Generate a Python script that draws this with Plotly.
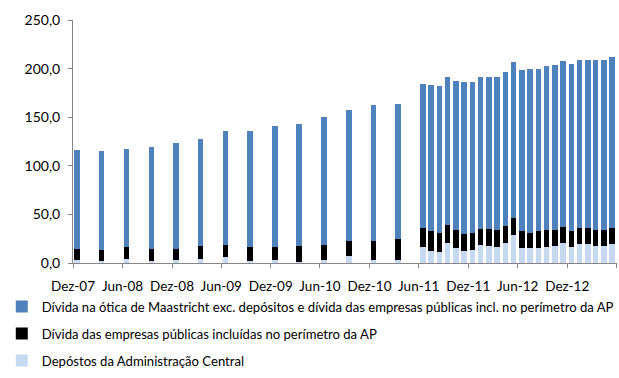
import plotly.graph_objects as go

# Period (year-month) of each bar: quarterly until Mar-11, monthly afterwards
periods = [
    "2007-12", "2008-03", "2008-06", "2008-09", "2008-12", "2009-03", "2009-06",
    "2009-09", "2009-12", "2010-03", "2010-06", "2010-09", "2010-12", "2011-03",
    "2011-06", "2011-07", "2011-08", "2011-09", "2011-10", "2011-11", "2011-12",
    "2012-01", "2012-02", "2012-03", "2012-04", "2012-05", "2012-06", "2012-07",
    "2012-08", "2012-09", "2012-10", "2012-11", "2012-12", "2013-01", "2013-02",
    "2013-03", "2013-04", "2013-05",
]

depositos = [
    3.1, 2.0, 4.4, 2.0, 3.1, 4.4, 5.8, 1.8, 3.1, 1.4, 3.1, 6.8, 3.1, 3.1,
    16.4, 12.3, 10.9, 20.5, 15.0, 12.3, 13.7, 18.8, 17.8, 16.4, 20.5, 28.7,
    15.0, 15.0, 15.0, 16.4, 17.8, 20.5, 16.4, 19.1, 19.1, 17.8, 17.8, 19.1,
]

empresas = [
    11.6, 11.7, 12.0, 12.7, 11.6, 13.0, 13.0, 14.6, 13.3, 16.4, 15.7, 16.1, 19.8, 21.5,
    20.1, 20.5, 19.8, 18.8, 19.2, 17.4, 17.0, 16.4, 17.4, 17.8, 17.4, 17.4,
    17.8, 15.7, 17.8, 17.8, 16.4, 16.4, 16.4, 16.4, 16.4, 16.4, 16.4, 16.4,
]

maastricht = [
    101.6, 101.2, 101.3, 104.3, 108.4, 109.8, 116.6, 119.0, 124.5, 125.6, 131.5, 134.2, 140.0, 139.3,
    147.9, 150.3, 151.0, 152.0, 153.3, 156.1, 155.1, 156.1, 156.1, 157.1, 159.1, 160.2,
    165.3, 168.7, 166.6, 168.0, 169.3, 170.7, 172.1, 173.5, 173.5, 174.8, 174.8, 176.3,
]

tick_dates = ["2007-12-01", "2008-06-01", "2008-12-01", "2009-06-01", "2009-12-01",
              "2010-06-01", "2010-12-01", "2011-06-01", "2011-12-01", "2012-06-01",
              "2012-12-01", "2013-06-01"]
tick_labels = ["Dez-07", "Jun-08", "Dez-08", "Jun-09", "Dez-09", "Jun-10", "Dez-10",
               "Jun-11", "Dez-11", "Jun-12", "Dez-12", ""]

names = [
    "Depóstos da Administração Central",
    "Dívida das empresas públicas incluídas no perímetro da AP",
    "Dívida na ótica de Maastricht exc. depósitos e dívida das empresas públicas incl. no perímetro da AP",
]
colors = ["#C6D9F1", "#000000", "#4F81BD"]
ranks = [3, 2, 1]

x = [p + "-16" for p in periods]
bar_w = 20.5 * 86400000

fig = go.Figure()
for i, (vals, name, col) in enumerate(zip([depositos, empresas, maastricht], names, colors)):
    fig.add_trace(go.Bar(
        x=x, y=vals, name=name, marker=dict(color=col, line=dict(width=0)),
        width=[bar_w] * len(x), legendgroup=f"g{i}", legendrank=ranks[i],
    ))

font_family = "Lato, Liberation Sans, Arial, sans-serif"
fig.update_layout(
    barmode="stack",
    width=619, height=378,
    margin=dict(l=59, r=2, t=20, b=114),
    paper_bgcolor="white", plot_bgcolor="white",
    separators=",.",
    font=dict(family=font_family, size=13, color="#000000"),
    showlegend=True,
    legend=dict(
        x=-0.1309, y=-0.467, xanchor="left", yanchor="bottom",
        orientation="v", traceorder="grouped", tracegroupgap=7,
        font=dict(size=13.1, family=font_family), itemwidth=30,
        bgcolor="rgba(0,0,0,0)",
    ),
    xaxis=dict(
        type="date",
        range=["2007-12-01", "2013-06-03"],
        tickvals=tick_dates, ticktext=tick_labels,
        ticks="outside", ticklen=4, tickcolor="#868686",
        showline=True, linecolor="#868686", linewidth=1,
        showgrid=False, zeroline=False,
        tickfont=dict(size=13.5, family=font_family),
        ticklabelstandoff=7,
    ),
    yaxis=dict(
        range=[0, 250], dtick=50, tickformat=".1f",
        ticks="outside", ticklen=4, tickcolor="#868686",
        showline=True, linecolor="#868686", linewidth=1,
        showgrid=False, zeroline=False,
        tickfont=dict(size=14, family=font_family),
        ticklabelstandoff=5,
    ),
)

fig.write_html("out.html")
